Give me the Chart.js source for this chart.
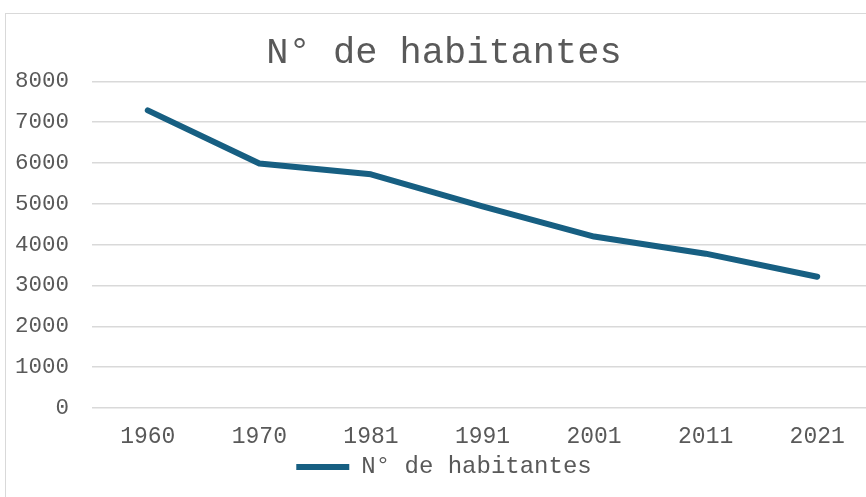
<!DOCTYPE html>
<html>
<head>
<meta charset="utf-8">
<script src="https://cdn.jsdelivr.net/npm/chart.js@4/dist/chart.umd.min.js"></script>
<style>
  html,body{margin:0;padding:0;background:#fff;overflow:hidden;}
  #frame{position:absolute;left:5px;top:13px;width:900px;height:520px;border:1px solid #d9d9d9;box-sizing:border-box;}
  #wrap{position:absolute;left:0;top:0;width:886px;height:497px;}
</style>
</head>
<body>
<div id="frame"></div>
<div id="wrap"><canvas id="c" width="886" height="497"></canvas></div>
<script>
var years = ['1960','1970','1981','1991','2001','2011','2021'];
var habitantes = [7290, 5990, 5725, 4940, 4200, 3780, 3215];
var seriesName = 'N° de habitantes';
var titleText = 'N° de habitantes';
var yMin = 0, yMax = 8000, yStep = 1000;

var FONT = '"Liberation Mono", "Courier New", monospace';
var GREY = '#595959';
var LINE = '#175f82';

new Chart(document.getElementById('c'), {
  type: 'line',
  data: {
    labels: years,
    datasets: [{
      label: seriesName,
      data: habitantes,
      borderColor: LINE,
      backgroundColor: LINE,
      borderWidth: 6,
      borderCapStyle: 'round',
      borderJoinStyle: 'round',
      pointRadius: 0,
      tension: 0
    }]
  },
  options: {
    responsive: false,
    animation: false,
    layout: { padding: { left: 15, right: 13, top: 0, bottom: 8 } },
    plugins: {
      title: {
        display: true, text: titleText, color: GREY,
        font: { family: FONT, size: 37, weight: 'normal', lineHeight: 1.2 },
        padding: { top: 31, bottom: 6 }
      },
      legend: {
        position: 'bottom',
        labels: {
          color: GREY, usePointStyle: true, pointStyle: 'line', pointStyleWidth: 53,
          padding: 4,
          font: { family: FONT, size: 24 }
        }
      },
      tooltip: { enabled: false }
    },
    scales: {
      x: {
        offset: true,
        grid: { display: false, drawTicks: false },
        border: { display: false },
        ticks: { color: GREY, padding: 15, font: { family: FONT, size: 23 } },
        afterFit: function(s){ s.height = 43; }
      },
      y: {
        min: yMin, max: yMax,
        grid: { color: '#d9d9d9', lineWidth: 1.5, drawTicks: false },
        border: { display: false },
        ticks: {
          stepSize: yStep, color: GREY, padding: 23,
          font: { family: FONT, size: 22.5 },
          callback: function(v){ return String(v); }
        },
        afterFit: function(s){ s.width = 77; }
      }
    }
  }
});
</script>
</body>
</html>
